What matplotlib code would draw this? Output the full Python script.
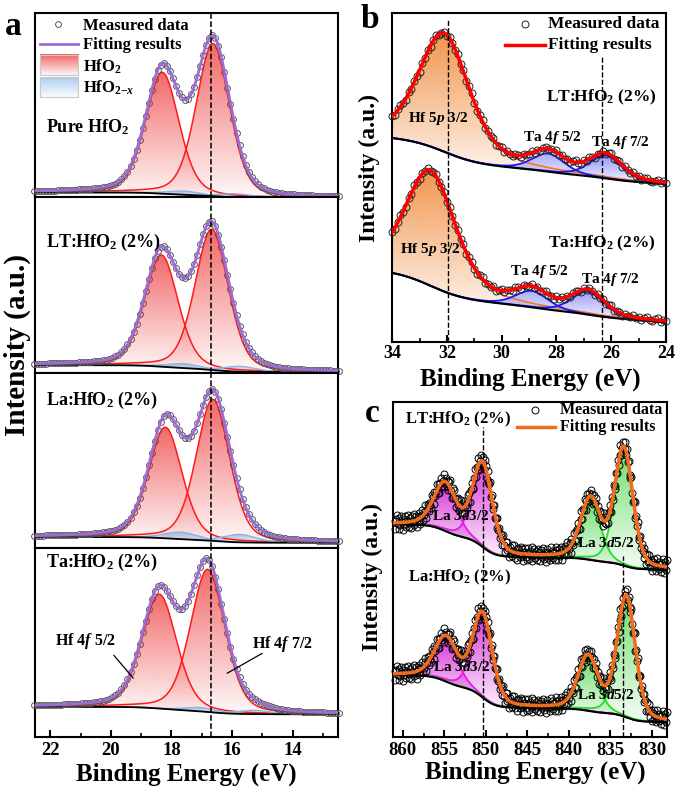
import numpy as np
import matplotlib
matplotlib.use('Agg')
import matplotlib.pyplot as plt
from matplotlib.colors import to_rgb
from matplotlib.patches import Polygon, Rectangle
from matplotlib.ticker import MultipleLocator

plt.rcParams['font.family'] = 'Liberation Serif'
plt.rcParams['font.weight'] = 'bold'
plt.rcParams['mathtext.fontset'] = 'custom'
plt.rcParams['mathtext.rm'] = 'Liberation Serif:bold'
plt.rcParams['mathtext.it'] = 'Liberation Serif:italic:bold'
plt.rcParams['mathtext.bf'] = 'Liberation Serif:bold'

# ---------------- panel a : Hf 4f fits (centre eV, height, FWHM) ----------------
a_names = ['Pure HfO$_2$', 'LT:HfO$_2$ (2%)', 'La:HfO$_2$ (2%)', 'Ta:HfO$_2$ (2%)']
a_hf_pos = [(16.63, 18.30), (16.67, 18.33), (16.63, 18.20), (16.80, 18.40)]
a_hf_amp = [(0.83, 0.66), (0.80, 0.635), (0.81, 0.635), (0.755, 0.605)]
a_hf_fwhm = [1.3, 1.3, 1.3, 1.35]
a_vac_pos = [(15.9, 17.6), (15.75, 17.6), (15.75, 17.7), (15.3, 17.0)]
a_vac_amp = [(0.02, 0.02), (0.03, 0.025), (0.045, 0.04), (0.02, 0.02)]
a_bg_hi = [0.025, 0.045, 0.063, 0.16]
a_bg_lo = [-0.005, 0.005, 0.03, 0.12]
a_label_y = [0.38, 0.74, 0.846, 0.926]
a_ref = 16.68

# ---------------- panel b : Hf 5p / Ta 4f ----------------
b_names = ['LT:HfO$_2$ (2%)', 'Ta:HfO$_2$ (2%)']
b_hf_pos = [32.1, 32.6]
b_hf_amp = [0.36, 0.35]
b_ta52_pos = [28.3, 28.9]
b_ta52_amp = [0.055, 0.05]
b_ta72_pos = [26.2, 26.85]
b_ta72_amp = [0.07, 0.07]
b_bg_hi = [0.62, 0.21]
b_bg_lo = [0.48, 0.06]
b_bg_step = [0.085, 0.09]
b_refs = [31.95, 26.33]

# ---------------- panel c : La 3d ----------------
c_names = ['LT:HfO$_2$ (2%)', 'La:HfO$_2$ (2%)']
c_d52_pos = [833.4, 833.1]
c_d52_amp = [0.35, 0.36]
c_d52s_pos = [837.4, 837.7]
c_d52s_amp = [0.18, 0.16]
c_d32_pos = [850.4, 850.4]
c_d32_amp = [0.25, 0.25]
c_d32s_pos = [854.9, 854.8]
c_d32s_amp = [0.14, 0.13]
c_bg_lo = [0.50, 0.045]
c_step52 = [0.035, 0.04]
c_step32 = [0.10, 0.10]
c_refs = [850.4, 833.5]
# scatter of the measured points around the fit (read as typical spread)
c_resid = [0.3, -0.8, 0.5, 1.0, -0.2, -0.9, 0.6, -0.4, 0.9, 0.1, -1.0, 0.4, -0.3, 0.8, -0.6, 0.2,
           1.0, -0.7, -0.1, 0.5, -0.9, 0.7, 0.0, -0.5, 0.9, -0.3, 0.6, -1.0, 0.3, 0.8, -0.4, -0.8,
           0.2, 0.9, -0.6, 0.4, -0.2, 1.0, -0.9, 0.1, 0.7, -0.5, 0.5, -0.1, -0.7, 0.8, 0.3, -0.9,
           0.6, -0.3, 0.0, 0.9, -0.6, 0.4, -1.0, 0.2, 0.7, -0.4, 0.1, -0.8, 1.0, -0.2, 0.5, -0.5]


def pvoigt(x, c, h, w, eta=0.3):
    g = np.exp(-4 * np.log(2) * ((x - c) / w) ** 2)
    l = 1 / (1 + 4 * ((x - c) / w) ** 2)
    return h * (eta * l + (1 - eta) * g)


def shirley(total):
    # x runs from high to low binding energy
    cum = np.cumsum(total[::-1])[::-1]
    return cum / cum[0]


def grad_fill(ax, x, top, bot, color, a_top=0.8, a_bot=0.03, z=1):
    d = top - bot
    m = d > 0.004 * d.max()
    xs, t, b = x[m], top[m], bot[m]
    verts = np.column_stack([np.r_[xs, xs[::-1]], np.r_[t, b[::-1]]])
    poly = Polygon(verts, closed=True, fc='none', ec='none')
    ax.add_patch(poly)
    rgba = np.zeros((256, 1, 4))
    rgba[..., :3] = to_rgb(color)
    rgba[:, 0, 3] = np.linspace(a_bot, a_top, 256)
    im = ax.imshow(rgba, extent=[xs.min(), xs.max(), b.min(), t.max()], origin='lower',
                   aspect='auto', interpolation='bilinear', zorder=z)
    im.set_clip_path(poly)


def grad_box(ax, x0, x1, y0, y1, color, a_top, a_bot):
    rgba = np.zeros((64, 1, 4))
    rgba[..., :3] = to_rgb(color)
    rgba[:, 0, 3] = np.linspace(a_bot, a_top, 64)
    ax.imshow(rgba, extent=[x0, x1, y0, y1], origin='lower', aspect='auto',
              transform=ax.transAxes, zorder=5)
    ax.add_patch(Rectangle((x0, y0), x1 - x0, y1 - y0, transform=ax.transAxes,
                           fc='none', ec='#c8c8c8', lw=0.8, zorder=6))


def style_axes(ax):
    for s in ax.spines.values():
        s.set_linewidth(1.5)
    ax.set_yticks([])
    ax.tick_params(axis='x', which='major', direction='in', length=5, width=1.5,
                   labelsize=13.5, pad=3.5, top=False)
    ax.tick_params(axis='x', which='minor', direction='in', length=3, width=1.2, top=False)


fig = plt.figure(figsize=(6.75, 7.93), dpi=100)

# ---------------- panel a ----------------
gs = fig.add_gridspec(4, 1, left=0.052, right=0.5007, bottom=0.0706, top=0.9836,
                      hspace=0, height_ratios=[184, 176, 175, 189])
xa = np.linspace(22.55, 12.45, 102)
xaf = np.linspace(22.55, 12.45, 600)
for i in range(4):
    ax = fig.add_subplot(gs[i])
    w = a_hf_fwhm[i]
    res = {}
    for key, xx in (('m', xa), ('f', xaf)):
        hf = [pvoigt(xx, c, h, w) for c, h in zip(a_hf_pos[i], a_hf_amp[i])]
        vac = [pvoigt(xx, c, h, 1.3) for c, h in zip(a_vac_pos[i], a_vac_amp[i])]
        tot = sum(hf) + sum(vac)
        bg = a_bg_lo[i] + (a_bg_hi[i] - a_bg_lo[i]) * shirley(tot)
        res[key] = (hf, vac, bg, bg + tot)
    hf, vac, bg, fit = res['f']
    for comp in hf:
        grad_fill(ax, xaf, bg + comp, bg, '#EE2C2C', 0.72, 0.03)
        ax.plot(xaf, bg + comp, color='#FF1A1A', lw=1.1, zorder=2)
    for comp in vac:
        grad_fill(ax, xaf, bg + comp, bg, '#5B9BE0', 0.55, 0.05)
        ax.plot(xaf, bg + comp, color='#8DB4E6', lw=1.0, zorder=2)
    ax.plot(xaf, bg, color='k', lw=1.3, zorder=2)
    ax.plot(xa, res['m'][3], 'o', ms=4.2, mfc='none', mec='#555555', mew=0.7,
            zorder=3, clip_on=False)
    ax.plot(xaf, fit, color='#9B6BD6', lw=2.0, zorder=4)
    ax.axvline(a_ref, color='k', ls='--', lw=1.1, zorder=5)
    ax.text(22.15, a_label_y[i], a_names[i], fontsize=13, va='center', ha='left', zorder=6)
    ax.set_xlim(22.5, 12.5)
    ax.set_ylim(0, 1)
    style_axes(ax)
    ax.xaxis.set_major_locator(MultipleLocator(2))
    ax.xaxis.set_minor_locator(MultipleLocator(1))
    if i < 3:
        ax.tick_params(axis='x', which='both', bottom=False, labelbottom=False)
    if i == 0:
        ax.plot([0.076], [0.94], 'o', ms=4.2, mfc='none', mec='#555555', mew=0.7,
                transform=ax.transAxes, zorder=6)
        ax.plot([0.0165, 0.142], [0.832, 0.832], color='#9B6BD6', lw=2.0,
                transform=ax.transAxes, zorder=6)
        grad_box(ax, 0.0165, 0.142, 0.663, 0.772, '#EE2C2C', 0.75, 0.05)
        grad_box(ax, 0.0165, 0.142, 0.543, 0.647, '#5B9BE0', 0.5, 0.03)
        ax.text(0.158, 0.929, 'Measured data', fontsize=12, va='center', transform=ax.transAxes)
        ax.text(0.158, 0.826, 'Fitting results', fontsize=12, va='center', transform=ax.transAxes)
        ax.text(0.158, 0.707, 'HfO$_2$', fontsize=12, va='center', transform=ax.transAxes)
        ax.text(0.158, 0.592, r'HfO$_{2\mathrm{-}\mathit{x}}$', fontsize=12, va='center',
                transform=ax.transAxes)
        ax.set_xlim(22.5, 12.5)
    if i == 3:
        ax.text(21.84, 0.508, 'Hf 4$f$ 5/2', fontsize=11.5, va='center', zorder=6)
        ax.annotate('', xy=(19.2, 0.30), xytext=(19.96, 0.444),
                    arrowprops=dict(arrowstyle='-', lw=0.9, color='k'), zorder=6)
        ax.text(15.35, 0.49, 'Hf 4$f$ 7/2', fontsize=11.5, va='center', zorder=6)
        ax.annotate('', xy=(16.24, 0.33), xytext=(14.92, 0.45),
                    arrowprops=dict(arrowstyle='-', lw=0.9, color='k'), zorder=6)

fig.text(0.276, 0.023, 'Binding Energy (eV)', fontsize=18, ha='center', va='center')
fig.text(0.025, 0.565, 'Intensity (a.u.)', fontsize=21, ha='center', va='center', rotation=90)
fig.text(0.019, 0.966, 'a', fontsize=24, ha='center', va='center')

# ---------------- panel b ----------------
axb = fig.add_axes([0.581, 0.5687, 0.4057, 0.4149])
xb = np.linspace(34, 24, 101)
xbf = np.linspace(34, 24, 600)
b_text = [((33.41, 0.68), (28.4, 0.745), (29.24, 0.623), (26.75, 0.605)),
          ((33.7, 0.28), (28.3, 0.30), (29.7, 0.213), (27.1, 0.19))]
for j in range(2):
    out = {}
    for key, xx in (('m', xb), ('f', xbf)):
        hf = pvoigt(xx, b_hf_pos[j], b_hf_amp[j], 2.2, 0.45)
        t52 = pvoigt(xx, b_ta52_pos[j], b_ta52_amp[j], 1.4)
        t72 = pvoigt(xx, b_ta72_pos[j], b_ta72_amp[j], 1.4)
        tot = hf + t52 + t72
        lin = b_bg_hi[j] - b_bg_lo[j] - b_bg_step[j]
        bg = b_bg_lo[j] + lin * (xx - 24) / 10 + b_bg_step[j] * shirley(tot)
        out[key] = (hf, t52, t72, bg, bg + tot)
    hf, t52, t72, bg, fit = out['f']
    grad_fill(axb, xbf, bg + hf, bg, '#EE7A1E', 0.8, 0.03)
    axb.plot(xbf, bg + hf, color='#F07A28', lw=1.2, zorder=2)
    for comp in (t52, t72):
        grad_fill(axb, xbf, bg + comp, bg, '#3030F0', 0.6, 0.03)
        axb.plot(xbf, bg + comp, color='#1A1AFF', lw=1.3, zorder=2)
    axb.plot(xbf, bg, color='k', lw=1.5, zorder=2)
    meas = out['m'][4] + np.resize(c_resid, xb.size) * 0.006
    axb.plot(xb, meas, 'o', ms=5, mfc='none', mec='#222222', mew=0.7, zorder=3, clip_on=False)
    axb.plot(xbf, fit, color='#FF0000', lw=2.5, zorder=4)
    p = b_text[j]
    axb.text(*p[0], 'Hf 5$p$ 3/2', fontsize=11, va='center', zorder=6)
    axb.text(*p[1], b_names[j], fontsize=12.5, va='center', zorder=6)
    axb.text(*p[2], 'Ta 4$f$ 5/2', fontsize=11, va='center', zorder=6)
    axb.text(*p[3], 'Ta 4$f$ 7/2', fontsize=11, va='center', zorder=6)
axb.axvline(b_refs[0], ymax=0.98, color='k', ls='--', lw=1.0, zorder=5)
axb.axvline(b_refs[1], ymax=0.87, color='k', ls='--', lw=1.0, zorder=5)
axb.plot([0.485], [0.967], 'o', ms=5, mfc='none', mec='#222222', mew=0.7,
         transform=axb.transAxes, zorder=6)
axb.plot([0.412, 0.558], [0.903, 0.903], color='#FF0000', lw=2.5, transform=axb.transAxes, zorder=6)
axb.text(0.57, 0.967, 'Measured data', fontsize=12.5, va='center', transform=axb.transAxes)
axb.text(0.57, 0.903, 'Fitting results', fontsize=12.5, va='center', transform=axb.transAxes)
axb.set_xlim(34, 24)
axb.set_ylim(0, 1)
style_axes(axb)
axb.tick_params(axis='x', which='major', labelsize=13, pad=2.5)
axb.xaxis.set_major_locator(MultipleLocator(2))
axb.xaxis.set_minor_locator(MultipleLocator(1))
fig.text(0.785, 0.5215, 'Binding Energy (eV)', fontsize=18, ha='center', va='center')
fig.text(0.547, 0.788, 'Intensity (a.u.)', fontsize=17, ha='center', va='center', rotation=90)
fig.text(0.548, 0.975, 'b', fontsize=24, ha='center', va='center')

# ---------------- panel c ----------------
axc = fig.add_axes([0.582, 0.0706, 0.406, 0.4225])
xc = np.arange(861.0, 828.1, -0.1)
xcf = np.linspace(861.2, 828.2, 800)
c_text = [((859.76, 0.949), (856.5, 0.66), (839.0, 0.58)),
          ((859.4, 0.475), (856.4, 0.21), (839.0, 0.125))]
for j in range(2):
    out = {}
    for key, xx in (('m', xc), ('f', xcf)):
        g1 = pvoigt(xx, c_d52_pos[j], c_d52_amp[j], 2.6)
        g2 = pvoigt(xx, c_d52s_pos[j], c_d52s_amp[j], 2.8)
        m1 = pvoigt(xx, c_d32_pos[j], c_d32_amp[j], 2.8)
        m2 = pvoigt(xx, c_d32s_pos[j], c_d32s_amp[j], 3.2)
        bg = c_bg_lo[j] + c_step52[j] * shirley(g1 + g2) + c_step32[j] * shirley(m1 + m2)
        out[key] = ((g1, g2), (m1, m2), bg, bg + g1 + g2 + m1 + m2)
    greens, mags, bg, fit = out['f']
    for comp in mags:
        grad_fill(axc, xcf, bg + comp, bg, '#D21ED2', 0.88, 0.05)
        axc.plot(xcf, bg + comp, color='#E619E6', lw=1.3, zorder=2)
    for comp in greens:
        grad_fill(axc, xcf, bg + comp, bg, '#30D030', 0.7, 0.05)
        axc.plot(xcf, bg + comp, color='#22DD22', lw=1.3, zorder=2)
    axc.plot(xcf, bg, color='k', lw=1.5, zorder=2)
    meas = out['m'][3] + np.resize(c_resid, xc.size) * 0.022
    axc.plot(xc, meas, 'o', ms=5, mfc='none', mec='k', mew=0.7, zorder=3, clip_on=False)
    axc.plot(xcf, fit, color='#F26A1B', lw=2.5, zorder=4)
    p = c_text[j]
    axc.text(*p[0], c_names[j], fontsize=12, va='center', zorder=6)
    axc.text(*p[1], 'La 3$d$3/2', fontsize=11, va='center', zorder=6)
    axc.text(*p[2], 'La 3$d$5/2', fontsize=11, va='center', zorder=6)
axc.axvline(c_refs[0], ymax=0.925, color='k', ls='--', lw=1.0, zorder=3.5)
axc.axvline(c_refs[1], ymax=0.54, color='k', ls='--', lw=1.0, zorder=3.5)
axc.plot([0.518], [0.976], 'o', ms=5, mfc='none', mec='k', mew=0.7,
         transform=axc.transAxes, zorder=6)
axc.plot([0.4525, 0.591], [0.925, 0.925], color='#F26A1B', lw=2.5, transform=axc.transAxes, zorder=6)
axc.text(0.609, 0.976, 'Measured data', fontsize=11.5, va='center', transform=axc.transAxes)
axc.text(0.609, 0.925, 'Fitting results', fontsize=11.5, va='center', transform=axc.transAxes)
axc.set_xlim(861.2, 828.2)
axc.set_ylim(0, 1)
style_axes(axc)
axc.xaxis.set_major_locator(MultipleLocator(5))
axc.xaxis.set_minor_locator(MultipleLocator(2.5))
fig.text(0.793, 0.026, 'Binding Energy (eV)', fontsize=18, ha='center', va='center')
fig.text(0.551, 0.272, 'Intensity (a.u.)', fontsize=17, ha='center', va='center', rotation=90)
fig.text(0.551, 0.479, 'c', fontsize=24, ha='center', va='center')

fig.savefig('out.png', dpi=100)
